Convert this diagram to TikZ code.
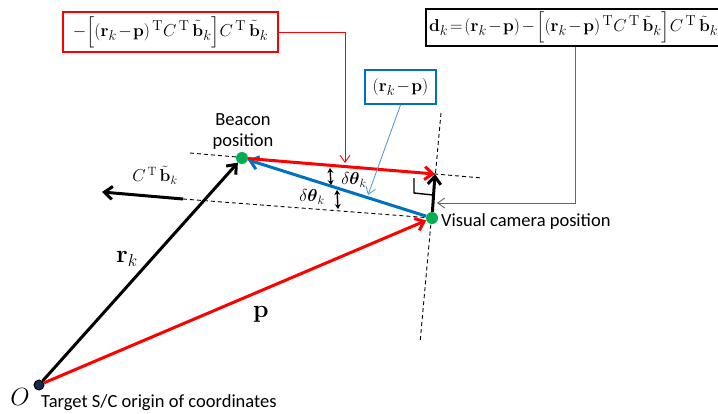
\documentclass[tikz,border=0pt]{standalone}
\usepackage{amsmath}
\usepackage[no-math]{fontspec}
\newfontfamily\calib{Carlito}
\usetikzlibrary{arrows.meta}
\definecolor{pred}{RGB}{255,0,0}
\definecolor{pblue}{RGB}{0,112,192}
\definecolor{lblue}{RGB}{91,155,213}
\definecolor{pgreen}{RGB}{0,176,80}
\definecolor{pnavy}{RGB}{20,40,80}
\newcommand{\Tp}{^{\,\mathrm{T}}}
\newcommand{\bkt}{\tilde{\mathbf{b}}_k}
\newcommand{\tightmath}{\thickmuskip=2mu\relax\medmuskip=1.5mu\relax}
\pgfdeclarelayer{bg}
\pgfsetlayers{bg,main}
\tikzset{
  vecarrow/.style={line width=3pt,-{Straight Barb[length=8pt,width=13pt]}},
  thinarrow/.style={line width=0.9pt,-{Straight Barb[length=7pt,width=10pt]}},
  guide/.style={line width=0.9pt,dash pattern=on 4pt off 3pt},
  dot/.style={circle,fill=pgreen,minimum size=12pt,inner sep=0pt},
  eqbox/.style={line width=2.2pt,fill=white,inner sep=3pt,font=\fontsize{19}{22}\selectfont},
  lab/.style={font=\calib\fontsize{18.5}{21}\selectfont,inner sep=0pt},
  dbl/.style={line width=1.4pt,{Stealth[length=5pt,width=6pt]}-{Stealth[length=5pt,width=6pt]}},
}
\begin{document}
\begin{tikzpicture}[x=1pt,y=-1pt]
\useasboundingbox (0,0) rectangle (718,413);
\clip (0,0) rectangle (718,413);

% key points
\node[circle,fill=pnavy,draw=black,line width=1pt,minimum size=10pt,inner sep=0pt] (O) at (39,385) {};
\node[dot] (B) at (242,158) {};
\node[dot] (V) at (432,218) {};
\coordinate (I) at (435,174);
\coordinate (L1a) at (190,153);
\coordinate (L1b) at (482,178);
\coordinate (v1) at (441,113);
\coordinate (v2) at (420,343);
\coordinate (ct) at (183,199);
\coordinate (ch) at (102,192);

% guide lines
\begin{pgfonlayer}{bg}
\draw[guide] (L1a) -- (L1b);
\draw[guide] (v1) -- (v2);
\draw[guide] (ct) -- (V.center);
\end{pgfonlayer}

% vectors
\draw[vecarrow,black] (O) -- (B);
\draw[vecarrow,pred] (O) -- (V);
\draw[vecarrow,pblue] (V) -- (B);
\draw[vecarrow,pred] (B) -- (I);
\draw[vecarrow,black] (V) -- (I);
\draw[vecarrow,black] (ct) -- (ch);

% right-angle mark
\coordinate (ra1) at (414,178);
\coordinate (ra2) at (414,193);
\coordinate (ra3) at (433,195);
\draw[line width=1.4pt] (ra1) -- (ra2) -- (ra3);

% angle markers
\coordinate (d1a) at (330,168);
\coordinate (d1b) at (331,185);
\coordinate (d2a) at (337,190);
\coordinate (d2b) at (338,209);
\draw[dbl] (d1a) -- (d1b);
\draw[dbl] (d2a) -- (d2b);
\node[font=\fontsize{17}{20}\selectfont,inner sep=0pt] (th1) at (354,180) {$\delta\boldsymbol{\theta}_k$};
\node[font=\fontsize{17}{20}\selectfont,inner sep=0pt] (th2) at (312,197) {$\delta\boldsymbol{\theta}_k$};

% vector labels
\node[font=\fontsize{26}{30}\selectfont,inner sep=0pt] (rlab) at (127,259) {$\mathbf{r}_k$};
\node[font=\fontsize{26}{30}\selectfont,inner sep=0pt] (plab) at (261,314) {$\mathbf{p}$};
\node[font=\fontsize{27}{30}\selectfont,inner sep=0pt] (olab) at (20,397) {$O$};
\node[font=\fontsize{17.5}{20}\selectfont,inner sep=0pt] (cblab) at (155,175) {$C\Tp\,\bkt$};

% text labels
\node[lab,align=center] (bcn) at (243,132) {Beacon\\position};
\node[lab,anchor=west] (vcp) at (441,222) {Visual camera position};
\node[lab,anchor=west] (tsc) at (41,403) {Target S/C origin of coordinates};

% equation boxes
\node[eqbox,draw=pred,minimum width=215pt,minimum height=40pt] (fr) at (170.5,32)
  {$\tightmath-\Big[(\mathbf{r}_k-\mathbf{p})\Tp C\Tp\,\bkt\Big]C\Tp\,\bkt$};
\node[eqbox,draw=pblue,minimum width=71pt,minimum height=34pt] (fb) at (400.5,87)
  {$\tightmath(\mathbf{r}_k-\mathbf{p})$};
\node[eqbox,draw=black,anchor=west,minimum height=35pt] (fk) at (425,27.5)
  {$\tightmath\mathbf{d}_k=(\mathbf{r}_k-\mathbf{p})-\Big[(\mathbf{r}_k-\mathbf{p})\Tp C\Tp\,\bkt\Big]C\Tp\,\bkt$};

% callout connectors
\coordinate (rtip) at (345,163);
\coordinate (btip) at (368,195);
\coordinate (kx) at (575,0);
\coordinate (ktip) at (437,203);
\draw[thinarrow,pred] (fr.east) -| (rtip);
\draw[thinarrow,lblue] (fb.south) -- (btip);
\draw[thinarrow,black!60] (kx |- fk.south) |- (ktip);
\end{tikzpicture}
\end{document}
